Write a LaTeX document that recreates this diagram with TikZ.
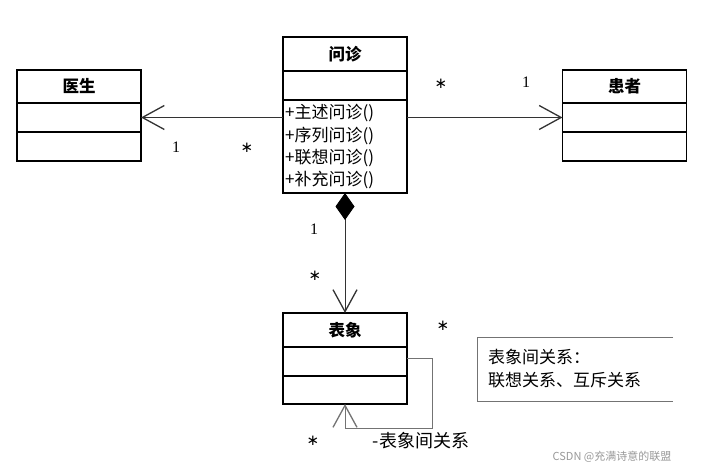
\documentclass[tikz,border=0pt]{standalone}
\usepackage{fontspec}
\setmainfont{Liberation Serif}
\newfontfamily\cjk{Noto Sans CJK SC}
\newfontfamily\sym{DejaVu Sans}
\usetikzlibrary{arrows.meta}

\begin{document}
\begin{tikzpicture}[x=1pt,y=-1pt,
  comp/.style={draw=black, line width=1.5pt, rectangle, inner sep=0pt, outer sep=0pt,
               minimum width=124pt, font=\cjk\fontsize{16.5}{18}\selectfont\bfseries},
  op/.style={inner sep=0pt, anchor=west, font=\cjk\fontsize{17}{18}\selectfont},
  mult/.style={inner sep=0pt, font=\fontsize{16}{18}\selectfont},
  star/.style={inner sep=0pt, font=\sym\fontsize{15}{18}\selectfont},
  openhead/.tip={Straight Barb[length=22pt, width=24pt, line width=1.3pt]},
  assoc/.style={draw=black!80, line width=0.9pt, -openhead},
  compo/.style={draw=black!80, line width=0.9pt,
                {Diamond[length=27pt, width=19pt, fill=black, color=black]}-openhead},
  selfrel/.style={draw=black!55, line width=1pt, -openhead},
  notetext/.style={inner sep=0pt, align=left, font=\cjk\fontsize{17}{23}\selectfont}
]
\useasboundingbox[fill=white] (0,0) rectangle (705,470);

% class: 问诊
\node[comp, minimum height=34pt] (wzName) at (345,54) {问诊};
\node[comp, minimum height=29pt, anchor=north] (wzAttr) at (wzName.south) {};
\node[comp, minimum height=93pt, anchor=north] (wzOps) at (wzAttr.south) {};
\node[op] (op1) at (285,113) {+主述问诊()};
\node[op] (op2) at (285,136) {+序列问诊()};
\node[op] (op3) at (285,158) {+联想问诊()};
\node[op] (op4) at (285,180) {+补充问诊()};

% class: 医生
\node[comp, minimum height=33pt] (ysName) at (79,86.5) {医生};
\node[comp, minimum height=29pt, anchor=north] (ysAttr) at (ysName.south) {};
\node[comp, minimum height=29pt, anchor=north] (ysOps) at (ysAttr.south) {};

% class: 患者
\node[comp, minimum height=33pt] (hzName) at (624.5,86.5) {患者};
\node[comp, minimum height=29pt, anchor=north] (hzAttr) at (hzName.south) {};
\node[comp, minimum height=29pt, anchor=north] (hzOps) at (hzAttr.south) {};

% class: 表象
\node[comp, minimum height=34pt] (bxName) at (345,330) {表象};
\node[comp, minimum height=29pt, anchor=north] (bxAttr) at (bxName.south) {};
\node[comp, minimum height=28pt, anchor=north] (bxOps) at (bxAttr.south) {};

% associations
\draw[assoc] (wzOps.west |- ysAttr.east) -- (ysAttr.east);
\draw[assoc] (wzOps.east |- hzAttr.west) -- (hzAttr.west);
\draw[compo] (wzOps.south) -- (bxName.north);
\draw[selfrel] ([yshift=3pt]bxAttr.east) -- ++(25,0) -- ++(0,70) -| (bxOps.south);

% multiplicities
\node[mult] (m1) at (176,147) {1};
\node[star] (m2) at (247,148) {∗};
\node[star] (m3) at (441,84) {∗};
\node[mult] (m4) at (526,82) {1};
\node[mult] (m5) at (314,229) {1};
\node[star] (m6) at (315,276) {∗};
\node[star] (m7) at (443,326) {∗};
\node[star] (m8) at (313,441) {∗};
\node[op, anchor=center, font=\cjk\fontsize{18}{20}\selectfont] (rel) at (421,441) {-表象间关系};

% note
\node[notetext, anchor=west] (noteText) at (488,369) {表象间关系：\\联想关系、互斥关系};
\coordinate (noteNE) at (673,338);
\coordinate (noteNW) at (477,338);
\coordinate (noteSW) at (477,402);
\coordinate (noteSE) at (673,402);
\draw[draw=black!55, line width=1pt] (noteNE) -- (noteNW) -- (noteSW) -- (noteSE);

% watermark
\node[inner sep=0pt, text=black!40, font=\cjk\fontsize{11}{13}\selectfont] (wm) at (612,457) {CSDN @充满诗意的联盟};
\end{tikzpicture}
\end{document}
